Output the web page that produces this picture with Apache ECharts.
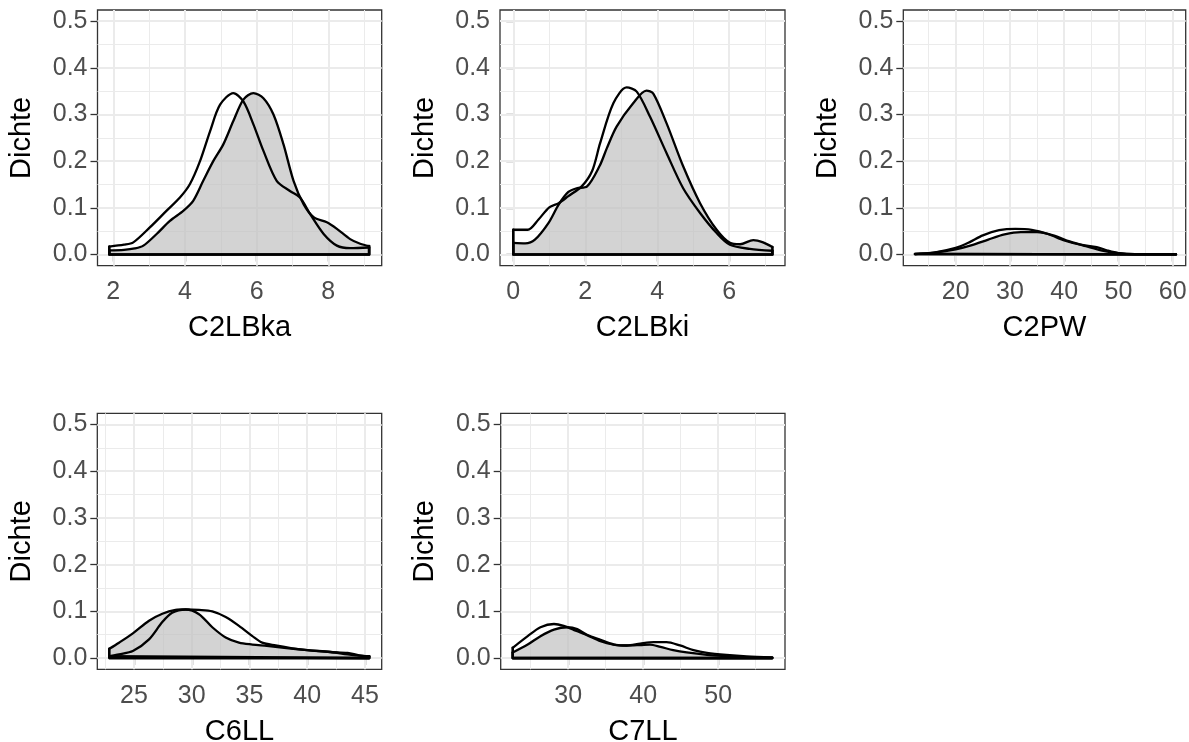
<!DOCTYPE html>
<html><head><meta charset="utf-8">
<script src="https://cdn.jsdelivr.net/npm/echarts@6/dist/echarts.min.js"></script>
<style>html,body{margin:0;padding:0;background:#fff}#c{width:1189px;height:742px}</style>
</head><body><div id="c"></div>
<script>
// ---------- data ----------
const yTicks = [0, 0.1, 0.2, 0.3, 0.4, 0.5];
const yMinor = [0.05, 0.15, 0.25, 0.35, 0.45];
const yLimits = [-0.024, 0.524];

const panelNames = ['C2LBka', 'C2LBki', 'C2PW', 'C6LL', 'C7LL'];

const c2lbkaTicks = [2, 4, 6, 8];
const c2lbkaMinor = [3, 5, 7, 9];
const c2lbkaLimits = [1.56, 9.49];
const c2lbkaFilled = [[1.89,0.009],[2.3,0.010],[2.6,0.013],[2.84,0.019],[3.21,0.044],[3.58,0.072],[3.96,0.094],[4.23,0.115],[4.51,0.158],[4.79,0.2],[5.07,0.236],[5.35,0.286],[5.63,0.332],[5.91,0.346],[6.19,0.335],[6.47,0.3],[6.75,0.236],[7.03,0.158],[7.31,0.108],[7.59,0.08],[7.96,0.069],[8.24,0.055],[8.61,0.033],[8.89,0.023],[9.14,0.018]];
const c2lbkaOutline = [[1.89,0.017],[2.3,0.021],[2.56,0.026],[3.02,0.058],[3.49,0.094],[3.86,0.122],[4.14,0.151],[4.42,0.2],[4.7,0.264],[4.98,0.321],[5.35,0.346],[5.63,0.328],[5.91,0.279],[6.19,0.222],[6.56,0.158],[6.93,0.136],[7.21,0.122],[7.49,0.087],[7.87,0.044],[8.24,0.019],[8.61,0.0135],[9.14,0.015]];

const c2lbkiTicks = [0, 2, 4, 6];
const c2lbkiMinor = [1, 3, 5, 7];
const c2lbkiLimits = [-0.37, 7.55];
const c2lbkiFilled = [[0,0.025],[0.33,0.024],[0.6,0.032],[0.98,0.068],[1.26,0.107],[1.53,0.134],[1.76,0.142],[2.05,0.146],[2.4,0.19],[2.6,0.228],[2.87,0.274],[3.33,0.324],[3.7,0.351],[3.89,0.345],[4.26,0.281],[4.72,0.189],[5.19,0.11],[5.65,0.053],[6.02,0.025],[6.3,0.022],[6.67,0.031],[6.94,0.026],[7.2,0.016]];
const c2lbkiOutline = [[0,0.053],[0.4,0.053],[0.7,0.075],[1.0,0.101],[1.26,0.11],[1.53,0.125],[1.9,0.146],[2.19,0.179],[2.41,0.238],[2.78,0.324],[3.15,0.358],[3.43,0.349],[3.8,0.295],[4.26,0.217],[4.72,0.142],[5.19,0.089],[5.65,0.046],[6.02,0.021],[6.57,0.012],[7.2,0.008]];

const c2pwTicks = [20, 30, 40, 50, 60];
const c2pwMinor = [15, 25, 35, 45, 55];
const c2pwLimits = [10.34, 62.4];
const c2pwFilled = [[12.5,0.001],[16,0.004],[20,0.011],[23,0.02],[26,0.032],[29,0.043],[32,0.048],[35,0.048],[38,0.041],[41,0.028],[44,0.018],[47,0.0085],[50,0.003],[53,0.001],[60.6,0.001]];
const c2pwOutline = [[12.5,0.001],[16,0.004],[20,0.014],[22.5,0.026],[25,0.041],[28,0.052],[31,0.055],[34,0.053],[37,0.044],[40,0.03],[43,0.021],[46,0.016],[48,0.0085],[50,0.003],[53,0.001],[60.6,0.001]];

const c6llTicks = [25, 30, 35, 40, 45];
const c6llMinor = [22.5, 27.5, 32.5, 37.5, 42.5];
const c6llLimits = [21.82, 46.45];
const c6llFilled = [[22.86,0.02],[23.7,0.033],[24.9,0.053],[26.3,0.08],[27.45,0.095],[28.6,0.103],[29.47,0.104],[30.63,0.094],[31.78,0.066],[32.94,0.044],[34.09,0.033],[35.25,0.029],[36.5,0.026],[38,0.022],[40,0.017],[42,0.013],[43.5,0.011],[44.5,0.006],[45.37,0.004]];
const c6llOutline = [[22.86,0.004],[23.7,0.008],[24.9,0.015],[26.3,0.04],[27.45,0.077],[28.3,0.097],[29.47,0.104],[30.63,0.103],[31.78,0.1],[32.94,0.088],[34.09,0.069],[35.25,0.047],[36.1,0.033],[37.27,0.027],[38.7,0.021],[40,0.017],[42,0.013],[43.5,0.008],[45.37,0.003]];

const c7llTicks = [30, 40, 50];
const c7llMinor = [25, 35, 45, 55];
const c7llLimits = [21.0, 58.9];
const c7llFilled = [[22.6,0.012],[24.6,0.029],[26.3,0.047],[28.1,0.061],[29.9,0.066],[31.2,0.062],[32.5,0.05],[34.3,0.039],[36.1,0.029],[37.8,0.027],[39.6,0.028],[40.9,0.029],[42.3,0.024],[44,0.017],[45.8,0.012],[48.5,0.007],[51.1,0.0044],[53.8,0.002],[57.2,0.001]];
const c7llOutline = [[22.6,0.022],[24.6,0.047],[26.3,0.066],[28.1,0.073],[29.4,0.069],[30.8,0.06],[32.5,0.049],[34.3,0.036],[36.1,0.029],[37.8,0.027],[39.6,0.031],[41.4,0.034],[43.1,0.034],[44.9,0.027],[46.7,0.017],[48.5,0.011],[51.1,0.0066],[53.8,0.0036],[57.2,0.0015]];

// ---------- layout ----------
const gridBoxes = [
  {left: 97.5, top: 10, width: 284.2, height: 255.7},
  {left: 500, top: 10, width: 285, height: 255.7},
  {left: 903.3, top: 10, width: 282.4, height: 255.7},
  {left: 97.3, top: 413.3, width: 284.4, height: 256},
  {left: 500.7, top: 413.3, width: 284.3, height: 256}
];

const panels = [
  {ticks: c2lbkaTicks, minor: c2lbkaMinor, lim: c2lbkaLimits, filled: c2lbkaFilled, outline: c2lbkaOutline},
  {ticks: c2lbkiTicks, minor: c2lbkiMinor, lim: c2lbkiLimits, filled: c2lbkiFilled, outline: c2lbkiOutline},
  {ticks: c2pwTicks, minor: c2pwMinor, lim: c2pwLimits, filled: c2pwFilled, outline: c2pwOutline},
  {ticks: c6llTicks, minor: c6llMinor, lim: c6llLimits, filled: c6llFilled, outline: c6llOutline},
  {ticks: c7llTicks, minor: c7llMinor, lim: c7llLimits, filled: c7llFilled, outline: c7llOutline}
];

const FONT = 'Liberation Sans, Arial, Helvetica, sans-serif';
const FRAME = '#333333';
const GRIDC = '#ebebeb';

const grid = [], xAxis = [], yAxis = [], series = [];

panels.forEach((p, i) => {
  grid.push(Object.assign({show: true, borderColor: FRAME, borderWidth: 1.3, backgroundColor: 'transparent',
    containLabel: false, outerBoundsMode: 'none'}, gridBoxes[i]));
  xAxis.push({
    type: 'value', gridIndex: i, min: p.lim[0], max: p.lim[1],
    axisLine: {show: false}, splitLine: {show: false},
    axisTick: {show: true, customValues: p.ticks, length: 7, lineStyle: {color: FRAME, width: 1.3}},
    axisLabel: {customValues: p.ticks, margin: 14, color: '#4d4d4d', fontSize: 25, fontFamily: FONT},
    name: panelNames[i], nameLocation: 'middle', nameGap: 48,
    nameTextStyle: {color: '#000', fontSize: 29, fontFamily: FONT}
  });
  yAxis.push({
    type: 'value', gridIndex: i, min: yLimits[0], max: yLimits[1],
    axisLine: {show: false}, splitLine: {show: false},
    axisTick: {show: true, customValues: yTicks, length: 7, lineStyle: {color: FRAME, width: 1.3}},
    axisLabel: {customValues: yTicks, margin: 10, color: '#4d4d4d', fontSize: 25, fontFamily: FONT,
      formatter: v => v.toFixed(1)},
    name: 'Dichte', nameLocation: 'middle', nameGap: 61,
    nameTextStyle: {color: '#000', fontSize: 29, fontFamily: FONT}
  });

  const ml = [];
  p.minor.forEach(v => ml.push({xAxis: v, lineStyle: {color: GRIDC, width: 1, type: 'solid'}}));
  yMinor.forEach(v => ml.push({yAxis: v, lineStyle: {color: GRIDC, width: 1, type: 'solid'}}));
  p.ticks.forEach(v => ml.push({xAxis: v, lineStyle: {color: GRIDC, width: 2, type: 'solid'}}));
  yTicks.forEach(v => ml.push({yAxis: v, lineStyle: {color: GRIDC, width: 2, type: 'solid'}}));

  // grid lines (drawn through the axes' scales), kept underneath the curves
  series.push({
    type: 'line', xAxisIndex: i, yAxisIndex: i, z: 1, silent: true,
    data: [p.filled[0]], showSymbol: false, lineStyle: {opacity: 0},
    markLine: {z: 1, silent: true, symbol: ['none', 'none'], label: {show: false}, animation: false, data: ml}
  });

  // filled density
  series.push({
    type: 'line', xAxisIndex: i, yAxisIndex: i, z: 2, silent: true, smooth: 0.3,
    data: p.filled, showSymbol: false,
    lineStyle: {color: '#000', width: 2.3, join: 'round', cap: 'round'},
    areaStyle: {color: 'rgba(190,190,190,0.68)', origin: 0, opacity: 1}
  });
  // unfilled density
  series.push({
    type: 'line', xAxisIndex: i, yAxisIndex: i, z: 3, silent: true, smooth: 0.3,
    data: p.outline, showSymbol: false,
    lineStyle: {color: '#000', width: 2.3, join: 'round', cap: 'round'}
  });
  // polygon edges (vertical ends + baseline) for both curves
  [p.filled, p.outline].forEach(c => {
    const a = c[0], b = c[c.length - 1];
    series.push({
      type: 'line', xAxisIndex: i, yAxisIndex: i, z: 3, silent: true,
      data: [a, [a[0], 0], [b[0], 0], b], showSymbol: false,
      lineStyle: {color: '#000', width: 2.6, join: 'round', cap: 'round'}
    });
  });
});

const chart = echarts.init(document.getElementById('c'), null, {renderer: 'canvas'});
chart.setOption({animation: false, backgroundColor: '#fff', grid, xAxis, yAxis, series});
</script></body></html>
